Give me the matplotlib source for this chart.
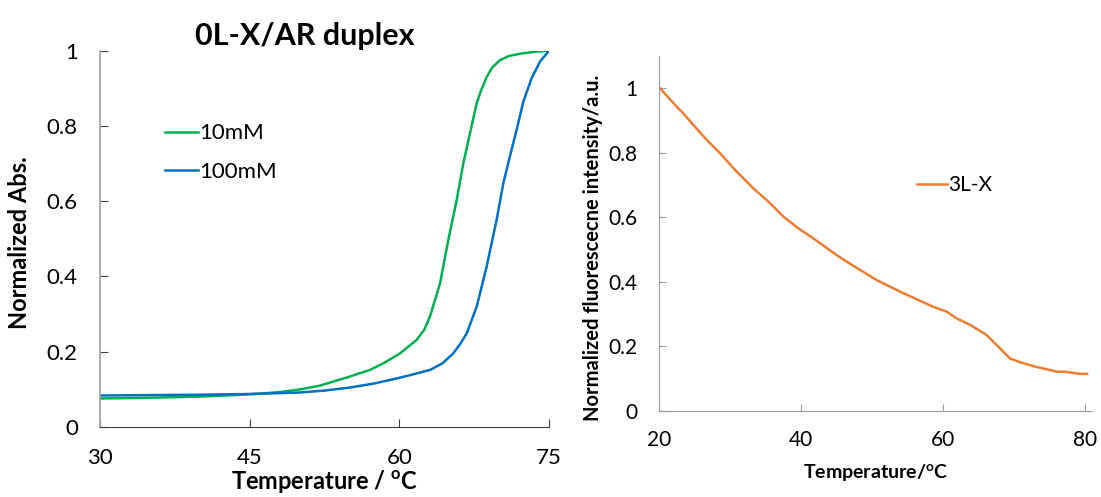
import matplotlib
matplotlib.use('Agg')
import matplotlib.pyplot as plt

plt.rcParams['font.family'] = ['Lato', 'DejaVu Sans']
plt.rcParams['mathtext.fontset'] = 'custom'
plt.rcParams['mathtext.rm'] = 'Lato'
plt.rcParams['mathtext.bf'] = 'Lato:bold'
plt.rcParams['mathtext.default'] = 'bf'

# Left: UV melting curves
temp_10mM = [30, 35, 40, 45, 48, 50, 52, 53.5, 55, 56, 57.06, 58.5, 60.07, 61.74, 62.5, 63.07, 64.08, 64.91,
             65.75, 66.41, 67.08, 67.75, 68.2, 68.75, 69.3, 70.09, 71, 72.1, 73.5, 75]
abs_10mM = [0.075, 0.077, 0.080, 0.086, 0.092, 0.099, 0.109, 0.121, 0.133, 0.142, 0.151, 0.170, 0.195, 0.231, 0.258,
            0.293, 0.381, 0.497, 0.603, 0.700, 0.78, 0.86, 0.895, 0.93, 0.955, 0.975, 0.986, 0.992, 0.997, 1.0]
temp_100mM = [30, 40, 45, 50, 52.5, 55, 57.5, 60, 61.5, 63.07, 64.3, 65.41, 66.1, 66.75, 67.75, 68.75, 69.75,
              70.42, 71.09, 71.76, 72.42, 73.26, 74.1, 75]
abs_100mM = [0.083, 0.085, 0.087, 0.091, 0.096, 0.104, 0.115, 0.130, 0.140, 0.151, 0.168, 0.195, 0.220, 0.248,
             0.319, 0.426, 0.55, 0.647, 0.72, 0.79, 0.864, 0.927, 0.971, 1.0]

# Right: fluorescence vs temperature
temp_3LX = [20.1, 22.45, 23.4, 24.8, 26.7, 28.55, 30.67, 33.25, 35.6, 37.5, 39.6, 41.7, 45.0, 46.4,
            48.3, 50.6, 54.4, 58.6, 60.5, 61.9, 63.8, 66.1, 67.8, 69.4, 70.6, 72.7, 76.0, 77.4, 79.3, 80.3]
fl_3LX = [1.0, 0.943, 0.922, 0.886, 0.840, 0.799, 0.747, 0.690, 0.644, 0.602, 0.566, 0.535, 0.483, 0.463,
          0.437, 0.406, 0.365, 0.323, 0.308, 0.287, 0.267, 0.236, 0.199, 0.163, 0.153, 0.139, 0.122, 0.121, 0.115, 0.115]

yticks = [0, 0.2, 0.4, 0.6, 0.8, 1]
ytick_labels = ['0', '0.2', '0.4', '0.6', '0.8', '1']

W, H = 1101, 497
fig = plt.figure(figsize=(W / 100, H / 100), dpi=100)

# ---- left panel ----
ax1 = fig.add_axes([100 / W, (H - 426.7) / H, 449 / W, 376 / H])
ax1.plot(temp_10mM, abs_10mM, color='#00B050', lw=1.8, label='10mM', solid_joinstyle='round')
ax1.plot(temp_100mM, abs_100mM, color='#0070C0', lw=1.8, label='100mM', solid_joinstyle='round')
ax1.set_xlim(30, 75)
ax1.set_ylim(0, 1)
ax1.set_xticks([30, 45, 60, 75])
ax1.set_yticks(yticks)
ax1.set_yticklabels(ytick_labels)
ax1.spines['top'].set_visible(False)
ax1.spines['right'].set_visible(False)
ax1.spines['left'].set_color('#a6a6a6')
ax1.spines['left'].set_linewidth(1.3)
ax1.spines['bottom'].set_color('#404040')
ax1.tick_params(axis='x', direction='in', length=6, pad=15, labelsize=16, color='#404040')
ax1.tick_params(axis='y', direction='in', length=6, pad=16, labelsize=16, color='#404040')
ax1.set_xlabel(r'Temperature / $^{\mathbf{o}}$C', fontsize=17, fontweight='bold', labelpad=0)
ax1.set_ylabel('Normalized Abs.', fontsize=17, fontweight='bold')
ax1.yaxis.set_label_coords(-0.154, 0.49)
ax1.set_title('0L-X/AR duplex', fontsize=22, fontweight='bold', pad=4, x=0.457)
ax1.legend(loc='upper left', bbox_to_anchor=(0.1, 0.86), frameon=False, fontsize=16,
           handlelength=1.5, handletextpad=0.05, labelspacing=0.85)

# ---- right panel ----
ax2 = fig.add_axes([659.3 / W, (H - 411) / H, 432.4 / W, 355 / H])
ax2.plot(temp_3LX, fl_3LX, color='#ED7D31', lw=1.8, label='3L-X', solid_joinstyle='round')
ax2.set_xlim(20, 80.94)
ax2.set_ylim(0, 1.1)
ax2.set_xticks([20, 40, 60, 80])
ax2.set_yticks(yticks)
ax2.set_yticklabels(ytick_labels)
ax2.spines['top'].set_visible(False)
ax2.spines['right'].set_visible(False)
ax2.spines['left'].set_color('#9a9a9a')
ax2.spines['bottom'].set_color('#9a9a9a')
ax2.tick_params(axis='x', direction='in', length=5, pad=14, labelsize=15, color='#9a9a9a')
ax2.tick_params(axis='y', direction='in', length=5, pad=16, labelsize=15, color='#9a9a9a')
ax2.set_xlabel(r'Temperature/$^{\mathbf{o}}$C', fontsize=14, fontweight='bold', labelpad=8)
ax2.set_ylabel('Normalized fluorescecne intensity/a.u.', fontsize=14.5, fontweight='bold')
ax2.yaxis.set_label_coords(-0.13, 0.459)
ax2.legend(loc='upper left', bbox_to_anchor=(0.552, 0.718), frameon=False, fontsize=15,
           handlelength=1.45, handletextpad=0.05)

fig.savefig('out.png', dpi=100)
